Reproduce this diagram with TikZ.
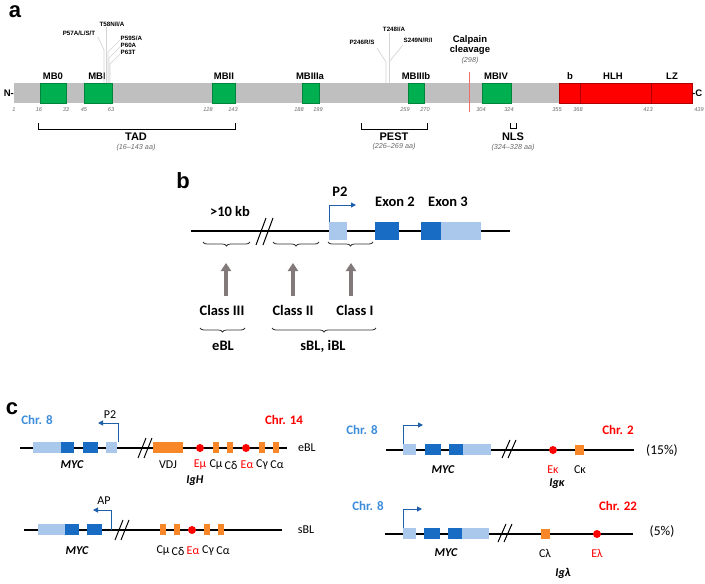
\documentclass[tikz,border=0pt]{standalone}
\usepackage{fontspec}
\setsansfont{Liberation Sans}
\newfontfamily\calfont{Carlito}
\usetikzlibrary{arrows.meta,decorations.pathreplacing}

\definecolor{barGray}{RGB}{191,191,191}
\definecolor{motifGreen}{RGB}{0,176,80}
\definecolor{bhlhRed}{RGB}{255,0,0}
\definecolor{exonDark}{RGB}{24,108,196}
\definecolor{exonLight}{RGB}{170,200,235}
\definecolor{igOrange}{RGB}{247,135,40}
\definecolor{chrBlue}{RGB}{60,140,220}
\definecolor{promBlue}{RGB}{30,95,170}
\definecolor{arrowGray}{RGB}{130,122,122}
\definecolor{numGray}{RGB}{105,105,105}
\definecolor{mutGray}{RGB}{212,212,212}
\definecolor{calpRed}{RGB}{240,110,110}

\tikzset{
  panel/.style={font=\sffamily\bfseries\fontsize{22}{24}\selectfont, inner sep=0pt},
  mblab/.style={font=\sffamily\bfseries\fontsize{9.5}{11}\selectfont, inner sep=0pt},
  mutlab/.style={font=\sffamily\bfseries\fontsize{6.2}{7}\selectfont, inner sep=0.5pt},
  aanum/.style={font=\sffamily\itshape\fontsize{5.6}{6}\selectfont, text=numGray, inner sep=0pt},
  domlab/.style={font=\sffamily\bfseries\fontsize{11}{12}\selectfont, inner sep=0pt},
  rangelab/.style={font=\sffamily\itshape\fontsize{7.2}{8}\selectfont, text=numGray, inner sep=0pt},
  motif/.style={fill=motifGreen, draw=motifGreen!75!black, line width=0.3pt},
  bhlh/.style={fill=bhlhRed, draw=bhlhRed!70!black, line width=0.4pt},
  mutline/.style={draw=mutGray, line width=0.7pt},
  bktline/.style={draw=black, line width=1pt},
  txtb/.style={font=\calfont\bfseries\fontsize{14.5}{17}\selectfont, inner sep=0pt},
  txtc/.style={font=\calfont\fontsize{12}{14}\selectfont, inner sep=0pt},
  genelab/.style={font=\calfont\bfseries\itshape\fontsize{12}{14}\selectfont, inner sep=0pt},
  chrlab/.style={font=\calfont\bfseries\fontsize{13}{15}\selectfont, inner sep=0pt},
  dna/.style={draw=black, line width=1.2pt},
  exondk/.style={fill=exonDark},
  exonlt/.style={fill=exonLight},
  igseg/.style={fill=igOrange},
  enh/.style={circle, fill=red, inner sep=0pt, minimum size=8pt},
  prom/.style={draw=promBlue, line width=1pt, -{Triangle[width=5pt,length=5pt]}},
  brk/.style={draw=black, line width=1pt},
  classarrow/.style={draw=arrowGray, line width=3.5pt, -{Triangle[width=10pt,length=8pt]}},
  grpbrace/.style={draw=black!80, line width=0.8pt, decorate, decoration={brace, mirror, amplitude=4pt}},
}

\begin{document}
\begin{tikzpicture}[x=1pt,y=-1pt]
\useasboundingbox (0,0) rectangle (705,584);

%%% panel a
\node[panel] (pa) at (15,12) {a};

\fill[barGray] (14,83) rectangle (560,103);
\draw[bhlh] (559,83) rectangle (692,103);
\draw[bhlhRed!70!black] (580,83) -- (580,103);
\draw[bhlhRed!70!black] (651,83) -- (651,103);
\node[mblab, anchor=east] (nterm) at (14,93) {N-};
\node[mblab, anchor=west] (cterm) at (692,93) {-C};

%motifs
\draw[motif] (40,83) rectangle (66,103);
\draw[motif] (84,83) rectangle (112,103);
\draw[motif] (212,83) rectangle (235,103);
\draw[motif] (302,83) rectangle (319,103);
\draw[motif] (408,83) rectangle (424,103);
\draw[motif] (482,83) rectangle (511,103);

\node[mblab] (mb0) at (53,76) {MB0};
\node[mblab] (mb1) at (97,76) {MBI};
\node[mblab] (mb2) at (224,76) {MBII};
\node[mblab] (mb3a) at (310,76) {MBIIIa};
\node[mblab] (mb3b) at (416,76) {MBIIIb};
\node[mblab] (mb4) at (496,76) {MBIV};
\node[mblab] (basic) at (570,76) {b};
\node[mblab] (hlh) at (613,76) {HLH};
\node[mblab] (lz) at (672,76) {LZ};

%residue numbers
\foreach \xp/\res in {14/1,39/16,66/33,84/45,111/63,208/128,233/143,299/188,318/199,
  405/259,425/270,481/304,509/324,557/355,578/368,648/413,699/439}
  \node[aanum] (aa\res) at (\xp,110) {\res};

%calpain
\draw[calpRed, line width=0.7pt] (469,72) -- (469,112);
\node[mblab, align=center] (calp) at (470,45) {Calpain\\[-1pt]cleavage};
\node[rangelab] (calpnum) at (470,61) {(298)};

%mutations MBI
\draw[mutline] (106,83) -- (106,27);
\draw[mutline] (104,83) -- (104,50) -- (98,37);
\draw[mutline] (108,83) -- (108,52) -- (120,40);
\draw[mutline] (109,83) -- (109,58) -- (120,47);
\draw[mutline] (110,83) -- (110,64) -- (120,54);
\node[mutlab] (m57) at (79,33) {P57A/L/S/T};
\node[mutlab] (m58) at (112,24) {T58N/I/A};
\node[mutlab, anchor=west] (m59) at (120,38) {P59S/A};
\node[mutlab, anchor=west] (m60) at (120,45) {P60A};
\node[mutlab, anchor=west] (m63) at (120,52) {P63T};

%mutations PEST
\draw[mutline] (386,83) -- (386,62) -- (377,48);
\draw[mutline] (389,83) -- (389,33);
\draw[mutline] (389,62) -- (403,45);
\node[mutlab] (m246) at (362,42) {P246R/S};
\node[mutlab] (m248) at (394,29) {T248I/A};
\node[mutlab] (m249) at (418,40) {S249N/R/I};

%domains
\draw[bktline] (38,123) -- (38,129) -- (235,129) -- (235,123);
\node[domlab] (tad) at (136,137) {TAD};
\node[rangelab] (tadr) at (136,148) {(16--143 aa)};
\draw[bktline] (361,123) -- (361,129) -- (427,129) -- (427,123);
\node[domlab] (pest) at (394,137) {PEST};
\node[rangelab] (pestr) at (394,147) {(226--269 aa)};
\draw[bktline] (510,123) -- (510,128) -- (516,128) -- (516,123);
\node[domlab] (nls) at (513,137) {NLS};
\node[rangelab] (nlsr) at (513,148) {(324--328 aa)};

%%% panel b
\node[panel] (pb) at (183,181) {b};
\draw[dna] (191,231) -- (510,231);
\draw[brk] (256,245) -- (266,218);
\draw[brk] (263,245) -- (273,218);
\fill[exonlt] (329,222) rectangle (347,240);
\fill[exondk] (375,222) rectangle (399,240);
\fill[exondk] (421,222) rectangle (441,240);
\fill[exonlt] (441,222) rectangle (481,240);
\draw[prom] (329,222) -- (329,205) -- (356,205);
\node[txtb] (p2b) at (340,192) {P2};
\node[txtb] (kb) at (230,211) {>10 kb};
\node[txtb] (ex2) at (395,202) {Exon 2};
\node[txtb] (ex3) at (448,202) {Exon 3};

\draw[grpbrace] (203,242) -- (250,242);
\draw[grpbrace] (273,242) -- (319,242);
\draw[grpbrace] (328,242) -- (373,242);
\draw[classarrow] (226,296) -- (226,263);
\draw[classarrow] (293,296) -- (293,263);
\draw[classarrow] (351,296) -- (351,263);
\node[txtb] (cl3) at (222,310) {Class III};
\node[txtb] (cl2) at (293,310) {Class II};
\node[txtb] (cl1) at (355,310) {Class I};
\draw[grpbrace] (200,328) -- (245,328);
\draw[grpbrace] (272,328) -- (376,328);
\node[txtb] (ebl) at (223,346) {eBL};
\node[txtb] (sbl) at (323,346) {sBL, iBL};

%%% panel c
\node[panel] (pc) at (12,409) {c};

%t(8;14) eBL
\node[chrlab, text=chrBlue] (c8a) at (37,420) {Chr. 8};
\node[chrlab, text=red] (c14a) at (284,420) {Chr. 14};
\draw[dna] (20,448) -- (287,448);
\fill[exonlt] (33,442) rectangle (61,453);
\fill[exondk] (61,442) rectangle (74,453);
\fill[exondk] (83,442) rectangle (98,453);
\fill[exonlt] (106,442) rectangle (117,453);
\draw[prom] (118,442) -- (118,423) -- (98,423);
\node[txtc] (p2c) at (110,415) {P2};
\draw[brk] (138,458) -- (146,438);
\draw[brk] (144,458) -- (152,438);
\fill[igseg] (153,442) rectangle (183,453);
\node[enh] (emu) at (200,448) {};
\foreach \xp in {216,230,262,276}
  \fill[igseg] (\xp-3,442) rectangle (\xp+3,453);
\node[enh] (ealpha) at (246,448) {};
\node[genelab] (myca) at (72,465) {MYC};
\node[txtc] (vdj) at (168,465) {VDJ};
\node[txtc, text=red] (emul) at (200,465) {Eμ};
\node[txtc] (cmua) at (216,465) {Cμ};
\node[txtc] (cdela) at (231,465) {Cδ};
\node[txtc, text=red] (eala) at (247,465) {Eα};
\node[txtc] (cgama) at (262,465) {Cγ};
\node[txtc] (calfa) at (277,465) {Cα};
\node[genelab] (igh) at (195,481) {IgH};
\node[txtc] (eblc) at (307,448) {eBL};

%t(8;14) sBL
\draw[dna] (24,530) -- (282,530);
\fill[exonlt] (38,524) rectangle (65,535);
\fill[exondk] (65,524) rectangle (79,535);
\fill[exondk] (87,524) rectangle (102,535);
\draw[prom] (111,530) -- (111,510) -- (93,510);
\node[txtc] (apc) at (104,501) {AP};
\draw[brk] (115,540) -- (123,520);
\draw[brk] (121,540) -- (129,520);
\foreach \xp in {163,177,207,221}
  \fill[igseg] (\xp-3,524) rectangle (\xp+3,535);
\node[enh] (ealphb) at (192,530) {};
\node[genelab] (mycb) at (77,551) {MYC};
\node[txtc] (cmub) at (163,551) {Cμ};
\node[txtc] (cdelb) at (178,551) {Cδ};
\node[txtc, text=red] (ealb) at (193,551) {Eα};
\node[txtc] (cgamb) at (208,551) {Cγ};
\node[txtc] (calfb) at (223,551) {Cα};
\node[txtc] (sblc) at (306,530) {sBL};

%t(2;8)
\node[chrlab, text=chrBlue] (c8b) at (362,430) {Chr. 8};
\node[chrlab, text=red] (c2) at (618,430) {Chr. 2};
\draw[dna] (386,450) -- (634,450);
\fill[exonlt] (403,444) rectangle (416,455);
\fill[exondk] (425,444) rectangle (441,455);
\fill[exondk] (449,444) rectangle (463,455);
\fill[exonlt] (463,444) rectangle (491,455);
\draw[prom] (403,444) -- (403,425) -- (423,425);
\draw[brk] (502,458) -- (510,440);
\draw[brk] (508,458) -- (516,440);
\node[enh] (ekap) at (553,450) {};
\fill[igseg] (575,445) rectangle (584,455);
\node[genelab] (mycc) at (443,470) {MYC};
\node[txtc, text=red] (ekapl) at (553,470) {Eκ};
\node[txtc] (ckap) at (580,470) {Cκ};
\node[genelab] (igk) at (557,484) {Igκ};
\node[font=\calfont\fontsize{13.5}{15}\selectfont, inner sep=0pt] (pc15) at (662,450) {(15\%)};

%t(8;22)
\node[chrlab, text=chrBlue] (c8c) at (368,506) {Chr. 8};
\node[chrlab, text=red] (c22) at (618,506) {Chr. 22};
\draw[dna] (385,534) -- (633,534);
\fill[exonlt] (403,528) rectangle (416,539);
\fill[exondk] (424,528) rectangle (440,539);
\fill[exondk] (448,528) rectangle (462,539);
\fill[exonlt] (462,528) rectangle (489,539);
\draw[prom] (403,528) -- (403,509) -- (422,509);
\draw[brk] (498,542) -- (506,524);
\draw[brk] (504,542) -- (512,524);
\fill[igseg] (541,529) rectangle (550,539);
\node[enh] (elam) at (597,534) {};
\node[genelab] (mycd) at (446,553) {MYC};
\node[txtc] (clam) at (545,553) {Cλ};
\node[txtc, text=red] (elaml) at (597,553) {Eλ};
\node[genelab] (igl) at (563,573) {Igλ};
\node[font=\calfont\fontsize{13.5}{15}\selectfont, inner sep=0pt] (pc5) at (662,531) {(5\%)};

\end{tikzpicture}
\end{document}
